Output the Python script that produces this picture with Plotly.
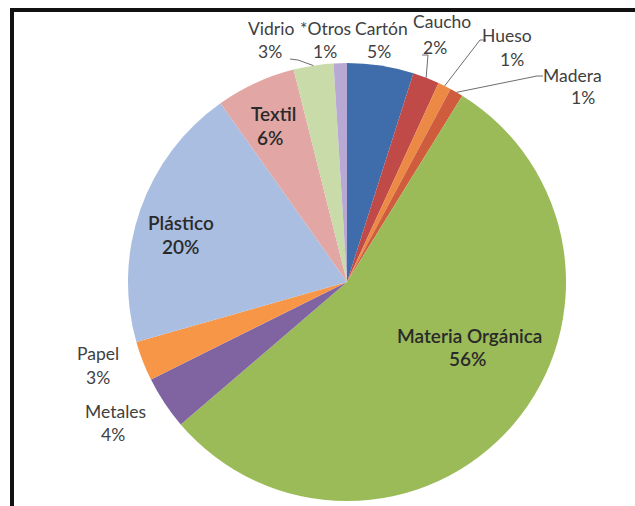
import math
import plotly.graph_objects as go

# Composition of solid waste (share of total, %)
categorias = ["Cartón", "Caucho", "Hueso", "Madera", "Materia Orgánica",
              "Metales", "Papel", "Plástico", "Textil", "Vidrio", "*Otros"]
porcentajes = [5, 2, 1, 1, 56, 4, 3, 20, 6, 3, 1]
colores = ["#3f6dab", "#bf4a47", "#ec8a45", "#cf5c3c", "#9bbb59",
           "#8064a2", "#f79646", "#a9bee0", "#e2a7a5", "#c8dba8", "#b7a9d3"]

W, H = 635, 506
CX, CY, R = 347, 282, 219          # pie centre / radius in pixels (from top-left)

fig = go.Figure(go.Pie(
    labels=categorias,
    values=porcentajes,
    sort=False,
    direction="clockwise",
    rotation=0,
    marker=dict(colors=colores, line=dict(width=0)),
    textinfo="none",
    hoverinfo="label+percent",
    showlegend=False,
    domain=dict(x=[(CX - R) / W, (CX + R) / W],
                y=[(H - CY - R) / H, (H - CY + R) / H]),
))

total = sum(porcentajes)


def px(x, y):
    """pixel (from top-left) -> paper coordinates"""
    return x / W, 1 - y / H


def borde(nombre):
    """point on the pie rim at the middle of a slice"""
    i = categorias.index(nombre)
    mid = (sum(porcentajes[:i]) + porcentajes[i] / 2) / total * 2 * math.pi
    return CX + R * math.sin(mid), CY - R * math.cos(mid)


# label placement: name position, percentage position, inside flag
etiquetas = {
    "Vidrio": ((271, 28), (270, 52), False),
    "*Otros": ((325, 28), (325, 52), False),
    "Cartón": ((381, 28), (379, 52), False),
    "Caucho": ((442, 22), (435, 47), False),
    "Hueso": ((507, 35), (512, 60), False),
    "Madera": ((572, 75), (583, 97), False),
    "Papel": ((98, 353), (98, 377), False),
    "Metales": ((115, 411), (113, 434), False),
    "Textil": ((273, 113), (270, 137), True),
    "Plástico": ((181, 222), (180, 246), True),
    "Materia Orgánica": ((469, 335), (467, 358), True),
}

anns = []
for nombre, (p_nom, p_pct, dentro) in etiquetas.items():
    i = categorias.index(nombre)
    fuente = dict(family="Lato, 'Open Sans', sans-serif",
                  size=19 if dentro else 17.5,
                  color="#2a2a2a" if dentro else "#404040",
                  weight=600 if dentro else 400)
    for (x, y), txt in ((p_nom, nombre), (p_pct, f"{porcentajes[i]}%")):
        xp, yp = px(x, y)
        anns.append(dict(x=xp, y=yp, xref="paper", yref="paper", text=txt,
                         showarrow=False, xanchor="center", yanchor="middle",
                         font=fuente))

# leader lines from outside labels to their slices
guias = {
    "Vidrio": [(290, 59), (298, 60)],
    "Caucho": [(422, 55), (428, 55)],
    "Hueso": [(486, 40), (480, 40)],
    "Madera": [(543, 76), (537, 76)],
}
shapes = []
for nombre, pts in guias.items():
    ex, ey = borde(nombre)
    cadena = pts + [(ex, ey)]
    for (x0, y0), (x1, y1) in zip(cadena[:-1], cadena[1:]):
        a0, b0 = px(x0, y0)
        a1, b1 = px(x1, y1)
        shapes.append(dict(type="line", xref="paper", yref="paper",
                           x0=a0, y0=b0, x1=a1, y1=b1,
                           line=dict(color="#6e6e6e", width=1)))

# black frame on the top and left edges
for (x0, y0, x1, y1) in ((10, 10, W, 10), (12, 8, 12, H)):
    a0, b0 = px(x0, y0)
    a1, b1 = px(x1, y1)
    shapes.append(dict(type="line", xref="paper", yref="paper",
                       x0=a0, y0=b0, x1=a1, y1=b1,
                       line=dict(color="#111111", width=4)))

fig.update_layout(
    width=W, height=H,
    margin=dict(l=0, r=0, t=0, b=0),
    paper_bgcolor="white",
    plot_bgcolor="white",
    annotations=anns,
    shapes=shapes,
)

fig.write_html("out.html")
